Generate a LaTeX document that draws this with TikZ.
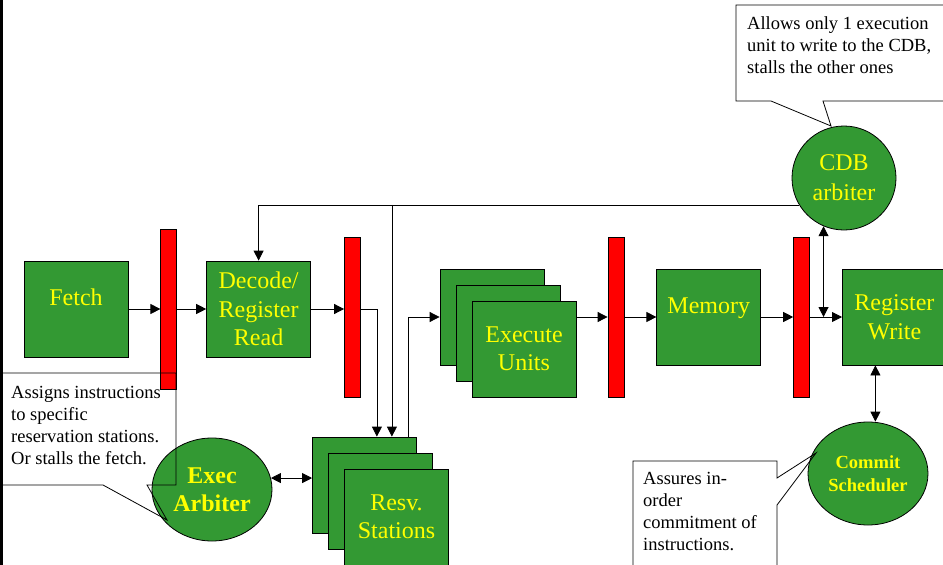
\documentclass[tikz,border=0pt]{standalone}
\usepackage{fontspec}
\setmainfont{Liberation Serif}
\usetikzlibrary{arrows.meta,positioning,shapes.geometric}
\definecolor{stagegreen}{RGB}{51,153,51}
\definecolor{stageyellow}{RGB}{255,255,0}

\begin{document}
\begin{tikzpicture}[x=1pt, y=-1pt,
    stage/.style={rectangle, draw=black, fill=stagegreen, text=stageyellow, line width=0.8pt,
                  minimum width=104pt, minimum height=96pt, inner sep=0pt, align=center,
                  font=\fontsize{24}{28.5}\selectfont},
    oneline/.style={text depth=23pt},
    latch/.style={rectangle, draw=black, fill=red, line width=0.8pt,
                  minimum width=16pt, minimum height=160pt, inner sep=0pt},
    arbiter/.style={ellipse, draw=black, fill=stagegreen, text=stageyellow, line width=0.8pt,
                  minimum width=120pt, minimum height=103pt, inner sep=0pt, align=center},
    cdbcircle/.style={circle, draw=black, fill=stagegreen, text=stageyellow, line width=0.8pt,
                  minimum size=104pt, inner sep=0pt, align=center,
                  font=\fontsize{24}{30}\selectfont},
    note/.style={inner sep=0pt, anchor=north west, align=left, font=\fontsize{18.5}{22}\selectfont},
    arrow/.style={-{Triangle[length=10pt,width=10pt]}, line width=0.8pt},
    biarrow/.style={{Triangle[length=10pt,width=10pt]}-{Triangle[length=10pt,width=10pt]}, line width=0.8pt}
]
\useasboundingbox (0,0) rectangle (943,565);

% pipeline stages and latches
\node[stage, oneline] (fetch) at (76,309) {Fetch};
\node[latch, right=32pt of fetch] (bar1) {};
\node[stage, right=29pt of bar1] (decode) {Decode/\\Register\\Read};
\node[latch] (bar2) at (352.5,317) {};

\node[stage] (resv1) at (364.5,485) {};
\node[stage] (resv2) at ([shift={(16,16)}]resv1) {};
\node[stage] (resv3) at ([shift={(16,16)}]resv2) {Resv.\\Stations};

\node[stage] (eu1) at (492,317) {};
\node[stage] (eu2) at ([shift={(16,16)}]eu1) {};
\node[stage] (eu3) at ([shift={(16,16)}]eu2) {Execute\\Units};

\node[latch] (bar3) at (616,317) {};
\node[stage, oneline, right=32pt of bar3] (memory) {Memory};
\node[latch, right=32pt of memory] (bar4) {};
\node[stage, right=32pt of bar4] (regwrite) {Register\\Write};

% arbiters
\node[arbiter, font=\bfseries\fontsize{24}{28}\selectfont] (execarb) at (212,489.5) {Exec\\Arbiter};
\node[cdbcircle] (cdbarb) at (844,178) {CDB\\arbiter};
\node[arbiter, font=\bfseries\fontsize{18.5}{23}\selectfont] (commit) at (868,473.5) {Commit\\Scheduler};

% data flow
\draw[arrow] (fetch) -- (bar1);
\draw[arrow] (bar1) -- (decode);
\draw[arrow] (decode.east) -- (decode.east -| bar2.west);
\draw[arrow] (bar2.east |- decode.east) -| ([xshift=-40pt]resv1.north east);
\coordinate (rsin) at ([xshift=-25pt]resv1.north east);
\draw[arrow] (cdbarb.211) -| (decode.north);
\draw[arrow] (rsin |- cdbarb.211) -- (rsin);
\draw[arrow] ([xshift=-9pt]resv1.north east) |- (eu1.west);
\draw[arrow] (bar3.west -| eu3.east) -- (bar3.west);
\draw[arrow] (bar3) -- (memory);
\draw[arrow] (memory) -- (bar4);
\draw[arrow] (bar4) -- (regwrite);
\draw[biarrow] (execarb.11) -- (execarb.11 -| resv1.west);
\draw[biarrow] (cdbarb.247) -- (cdbarb.247 |- regwrite.west);
\draw[biarrow] ([xshift=-19pt]regwrite.south) -- ([xshift=-19pt]regwrite.south |- commit.north);

% callouts
\node[note] (assignnote) at (11,386) {Assigns instructions\\to specific\\reservation stations.\\Or stalls the fetch.};
\draw[line width=0.8pt] (2,373) -- (176,373) -- (176,485) -- (147,485) -- (167,520) -- (103,485) -- (2,485) -- cycle;

\node[note] (cdbnote) at (747,16) {Allows only 1 execution\\unit to write to the CDB,\\stalls the other ones};
\draw[line width=0.8pt] (736,5) -- (950,5) -- (950,101) -- (823,101) -- (831,126) -- (771,101) -- (736,101) -- cycle;

\node[note] (commitnote) at (643,472) {Assures in-\\order\\commitment of\\instructions.};
\draw[line width=0.8pt] (633,461) -- (777,461) -- (777,478) -- (816,453) -- (777,505) -- (777,570) -- (633,570) -- cycle;

% frame edge
\draw[line width=2.5pt] (1.25,0) -- (1.25,565);
\end{tikzpicture}
\end{document}
